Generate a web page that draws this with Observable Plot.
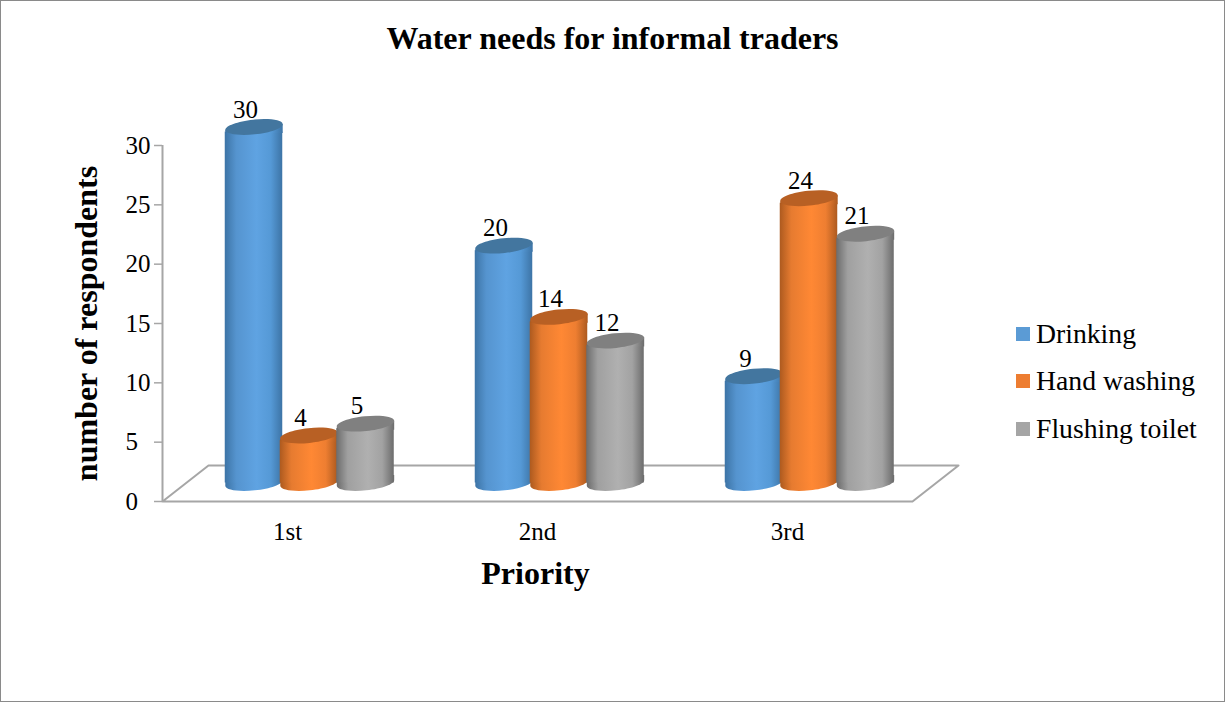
<!DOCTYPE html>
<html>
<head>
<meta charset="utf-8">
<script src="https://cdn.jsdelivr.net/npm/d3@7"></script>
<script src="https://cdn.jsdelivr.net/npm/@observablehq/plot@0.6"></script>
<style>
  html, body { margin: 0; padding: 0; background: #fff; }
  #chart { position: relative; width: 1225px; height: 702px; overflow: hidden; background: #fff;
           outline: 1px solid #8a8a8a; outline-offset: -1px;
           font-family: "Liberation Serif", serif; color: #000; }
  #title { position: absolute; left: 0; top: 18px; width: 1225px; text-align: center;
           font-size: 32px; font-weight: bold; line-height: 40px; }
  #plot { position: absolute; left: 0; top: 70px; }
  #plot svg { overflow: visible; display: block; }
  #legend { position: absolute; left: 1016px; top: 310px; }
  .row { display: flex; align-items: center; height: 47.5px; font-size: 27.7px; white-space: nowrap; }
  .sw { width: 14px; height: 14px; margin-right: 6px; }
</style>
</head>
<body>
<div id="chart">
  <div id="title">Water needs for informal traders</div>
  <div id="plot"></div>
  <div id="legend"></div>
</div>
<script>
// ---- data ----
const categories = ["1st", "2nd", "3rd"];
const seriesNames = ["Drinking", "Hand washing", "Flushing toilet"];
const drinking = [30, 20, 9];
const handWashing = [4, 14, 24];
const flushingToilet = [5, 12, 21];
const yTicks = [0, 5, 10, 15, 20, 25, 30];
const allValues = [drinking, handWashing, flushingToilet];

// ---- styling ----
const flat = ["#5b9bd5", "#ed7d31", "#a5a5a5"];
const topColor = ["#43769f", "#b86024", "#808080"];
const ramps = [
  ["#3d74a6", "#5594cf", "#5fa3e2", "#5599d6", "#3d74a6"],
  ["#ad5a1f", "#e67b30", "#ff8834", "#ee7e31", "#ad5a1f"],
  ["#6c6c6c", "#a0a0a0", "#b0b0b0", "#a2a2a2", "#6c6c6c"]
];
const gridColor = "#a6a6a6";
const barWidth = 0.23;                    // in category units
const slot = [0.366, 0.586, 0.812];       // cylinder centres within a category
const lift = -18.5;                       // the cylinders stand on the middle of the floor

const rows = allValues.map((vals, s) =>
  vals.map((value, c) => ({category: categories[c], c, s, value, centre: c + slot[s]}))
);

// Tilted ellipse symbols for the cylinder ends
const A = 28.85, B = 7.4, TILT = -6 * Math.PI / 180, K = 0.5522847;
const R = (x, y) => [x * Math.cos(TILT) - y * Math.sin(TILT), x * Math.sin(TILT) + y * Math.cos(TILT)];
const cap = {
  draw(ctx) {
    ctx.moveTo(...R(A, 0));
    ctx.bezierCurveTo(...R(A, K * B), ...R(K * A, B), ...R(0, B));
    ctx.bezierCurveTo(...R(-K * A, B), ...R(-A, K * B), ...R(-A, 0));
    ctx.bezierCurveTo(...R(-A, -K * B), ...R(-K * A, -B), ...R(0, -B));
    ctx.bezierCurveTo(...R(K * A, -B), ...R(A, -K * B), ...R(A, 0));
    ctx.closePath();
  }
};
// lower half of the ellipse with straight sides: the foot of a cylinder
const foot = {
  draw(ctx) {
    const [lx, ly] = R(-A, 0), [rx, ry] = R(A, 0);
    ctx.moveTo(lx, -8);
    ctx.lineTo(lx, ly);
    ctx.bezierCurveTo(...R(-A, K * B), ...R(-K * A, B), ...R(0, B));
    ctx.bezierCurveTo(...R(K * A, B), ...R(A, K * B), rx, ry);
    ctx.lineTo(rx, -8);
    ctx.closePath();
  }
};
// straight-sided piece from the ellipse's tips down: the shoulder under the lid
const shoulder = {
  draw(ctx) {
    const [lx, ly] = R(-A, 0), [rx, ry] = R(A, 0);
    ctx.moveTo(lx, ly);
    ctx.lineTo(rx, ry);
    ctx.lineTo(rx, 6);
    ctx.lineTo(lx, 6);
    ctx.closePath();
  }
};

function gradients() {
  const svgNS = "http://www.w3.org/2000/svg";
  const defs = document.createElementNS(svgNS, "defs");
  const offsets = ["0%", "20%", "55%", "80%", "100%"];
  ramps.forEach((ramp, i) => {
    const g = document.createElementNS(svgNS, "linearGradient");
    g.setAttribute("id", "cyl" + i);
    ramp.forEach((col, j) => {
      const st = document.createElementNS(svgNS, "stop");
      st.setAttribute("offset", offsets[j]);
      st.setAttribute("stop-color", col);
      g.appendChild(st);
    });
    defs.appendChild(g);
  });
  return defs;
}

const floorX = [0, 0.184, 3.184, 3, 0];
const floorY = [0, 3.03, 3.03, 0, 0];

const cylinders = rows.flatMap((data, s) => [
  Plot.dot(data, {x: "centre", y: 0, symbol: foot, r: 1, dy: lift, fill: `url(#cyl${s})`}),
  Plot.rect(data, {
    x1: d => d.centre - barWidth / 2,
    x2: d => d.centre + barWidth / 2,
    y1: 0, y2: "value", dy: lift, insetTop: 5, fill: `url(#cyl${s})`
  }),
  Plot.dot(data, {x: "centre", y: "value", symbol: shoulder, r: 1, dy: lift, fill: `url(#cyl${s})`}),
  Plot.dot(data, {x: "centre", y: "value", symbol: cap, r: 1, dy: lift, fill: topColor[s]})
]);

const chart = Plot.plot({
  width: 1225,
  height: 560,
  marginLeft: 162,
  marginRight: 313,
  marginTop: 75,
  marginBottom: 129,
  style: {fontFamily: "'Liberation Serif', serif", background: "transparent", overflow: "visible"},
  x: {type: "linear", domain: [0, 3], axis: null},
  y: {domain: [0, 30], axis: null},
  marks: [
    gradients,
    Plot.line(floorX.map((x, i) => ({x, y: floorY[i]})), {x: "x", y: "y", stroke: gridColor, strokeWidth: 2}),
    Plot.ruleX([0], {y1: 0, y2: 30, stroke: gridColor, strokeWidth: 2}),
    Plot.axisY({
      ticks: yTicks, tickSize: 8, tickPadding: 29, textAnchor: "start", label: null,
      stroke: gridColor, strokeWidth: 1.5, fill: "#000", fontSize: 25
    }),
    Plot.axisX({
      ticks: categories.map((_, i) => i + 0.5),
      tickFormat: v => categories[Math.floor(v)],
      tickSize: 0, tickPadding: 21, label: null, fill: "#000", fontSize: 25
    }),
    ...cylinders,
    ...rows.map(data => Plot.text(data, {
      x: "centre", y: "value", text: d => String(d.value),
      dx: -8.5, dy: lift - 17.5, fontSize: 25, fill: "#000"
    })),
    Plot.text(["number of respondents"], {
      frameAnchor: "left", textAnchor: "middle", rotate: -90, dx: -76, fontSize: 32, fontWeight: "bold", fill: "#000"
    }),
    Plot.text(["Priority"], {
      frameAnchor: "bottom", dx: -2, dy: 82, fontSize: 32, fontWeight: "bold", fill: "#000"
    })
  ]
});
document.getElementById("plot").appendChild(chart);

const legend = document.getElementById("legend");
seriesNames.forEach((name, i) => {
  const row = document.createElement("div");
  row.className = "row";
  const sw = document.createElement("div");
  sw.className = "sw";
  sw.style.background = flat[i];
  const label = document.createElement("span");
  label.textContent = name;
  row.append(sw, label);
  legend.appendChild(row);
});
</script>
</body>
</html>
